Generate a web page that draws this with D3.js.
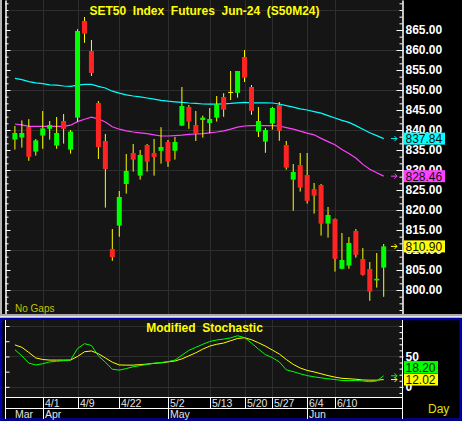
<!DOCTYPE html>
<html>
<head>
<meta charset="utf-8">
<script src="https://cdn.jsdelivr.net/npm/d3@7"></script>
<style>
body { margin: 0; background: #000; }
svg { display: block; font-family: "Liberation Sans", Arial, sans-serif; }
</style>
</head>
<body>
<div id="chart"></div>
<script>
// trading days, SET50 Jun-24 futures
const dates = ["3/26", "3/27", "3/28", "3/29",
    "4/1", "4/2", "4/3", "4/4", "4/5", "4/9", "4/10", "4/11", "4/17", "4/18", "4/19",
    "4/22", "4/23", "4/24", "4/25", "4/26", "4/29", "4/30",
    "5/2", "5/3", "5/7", "5/8", "5/9", "5/10", "5/13", "5/14", "5/15", "5/16", "5/17",
    "5/20", "5/21", "5/23", "5/24", "5/27", "5/28", "5/29", "5/30", "5/31",
    "6/4", "6/5", "6/6", "6/7", "6/10", "6/11", "6/12", "6/13", "6/14", "6/17", "6/18", "6/19"];

const open = [837.6, 838.1, 840.75, 834.6, 838.6, 840.3, 836.1, 842.25, 835.1, 843.1,
    867.25, 859.75, 846.75, 837.25, 810.25, 816.1, 826.5, 834.25, 828.6, 836.25,
    834.25, 834.8, 837.0, 834.8, 841.1, 845.75, 841.25, 842.5, 841.75, 843.1,
    848.25, 849.4, 849.3, 858.25, 850.75, 839.6, 837.1, 841.6, 846.25, 836.25,
    827.6, 831.25, 828.75, 825.25, 826.25, 816.6, 817.75, 805.3, 806.1, 814.75,
    807.75, 805.25, 802.4, 805.6];
const high = [841.0, 842.4, 842.7, 837.75, 844.75, 842.25, 843.25, 844.0, 840.0, 865.2,
    868.25, 862.5, 847.25, 839.0, 815.25, 824.75, 834.0, 836.5, 835.0, 836.5,
    837.75, 840.7, 837.5, 838.25, 850.75, 846.25, 844.75, 843.6, 845.5, 848.5,
    849.2, 854.75, 854.75, 860.0, 851.25, 845.75, 840.5, 845.75, 847.0, 837.25,
    831.5, 834.25, 834.25, 826.75, 826.5, 820.75, 817.9, 814.25, 813.25, 815.25,
    810.5, 807.0, 809.25, 811.5];
const low = [835.1, 835.6, 832.3, 833.6, 835.3, 837.6, 835.3, 836.6, 834.1, 842.1,
    861.8, 853.5, 832.75, 820.6, 807.3, 813.3, 824.1, 829.6, 827.6, 829.6,
    828.6, 831.6, 830.8, 832.6, 841.0, 840.3, 837.25, 838.1, 839.2, 842.1,
    843.3, 847.5, 848.1, 852.0, 843.8, 838.25, 834.3, 840.1, 837.3, 830.1,
    819.8, 824.6, 821.6, 819.1, 813.6, 813.1, 804.6, 805.2, 805.3, 808.1,
    803.6, 797.3, 800.6, 798.3];
const close = [839.25, 839.25, 833.3, 837.4, 840.4, 841.25, 839.25, 840.3, 839.6, 864.75,
    864.1, 854.25, 835.75, 830.25, 808.2, 823.25, 829.75, 832.6, 833.75, 832.1,
    833.25, 835.75, 832.1, 837.0, 846.0, 842.1, 839.0, 843.1, 842.75, 846.4,
    845.1, 849.4, 854.75, 853.1, 844.8, 842.25, 840.0, 845.5, 839.8, 830.6,
    829.5, 825.6, 822.3, 823.6, 816.6, 818.75, 807.8, 807.5, 811.75, 808.8,
    803.8, 799.6, 802.8, 810.9];

// moving averages
const maLong = [852.9, 852.6, 852.1, 851.8, 851.6, 851.3, 851.2, 851.0, 850.9, 851.2,
    851.4, 851.4, 850.9, 850.5, 849.7, 849.2, 848.8, 848.5, 848.3, 848.0,
    847.7, 847.4, 847.2, 847.05, 846.9, 846.75, 846.65, 846.5, 846.45, 846.45,
    846.55, 846.65, 846.8, 846.9, 846.8, 846.8, 846.8, 846.75, 846.5, 846.1,
    845.7, 845.3, 845.0, 844.6, 844.2, 843.6, 843.0, 842.4, 841.9, 841.1,
    840.2, 839.3, 838.6, 837.84];
const maShort = [841.5, 841.3, 840.9, 840.9, 840.9, 840.9, 840.9, 840.9, 841.2, 842.1,
    842.7, 843.2, 842.8, 842.0, 840.8, 840.2, 839.8, 839.5, 839.3, 839.1,
    838.8, 838.5, 838.5, 838.6, 838.7, 838.9, 839.0, 839.1, 839.3, 839.5,
    839.8, 840.2, 840.7, 841.0, 841.1, 841.1, 841.1, 841.1, 841.0, 840.6,
    840.2, 839.7, 839.2, 838.8, 837.9, 837.1, 836.3, 835.1, 834.1, 833.0,
    831.4, 830.2, 829.3, 828.46];

// modified stochastic %K (green) and %D (yellow)
const stochK = [61, 51, 39, 36, 38, 41, 42, 43, 44, 63,
    71, 68, 51, 40.5, 29, 27.5, 30, 33, 35, 37,
    39, 40, 41.5, 44, 52, 60, 65, 70, 74.5, 77,
    78.5, 80.5, 84, 81, 72, 62, 53, 48, 41, 28,
    25, 21.5, 18.5, 16.5, 14.8, 13.3, 12, 10.5, 10.2, 10.6,
    9.6, 8.4, 9.6, 18.2];
const stochD = [69, 65, 56.5, 47.5, 45, 44, 44, 44, 44, 50,
    57.7, 59, 54.5, 47.5, 40.5, 36, 35.7, 35.7, 36.5, 37.4,
    38.5, 39.5, 41, 42.5, 46, 51, 56, 62, 67, 70,
    72, 75.8, 79.5, 80.7, 77.5, 72.5, 67, 60.5, 54, 45,
    37, 31, 27, 24.5, 21.5, 18.5, 16, 14, 13.3, 12.5,
    11.3, 11, 11, 12.02];

const priceTicks = [800, 805, 810, 815, 820, 825, 830, 835, 840, 845, 850, 855, 860, 865];
const priceGrid = [800, 810, 820, 830, 840, 850, 860, 870];
const dateLabels = ["4/1", "4/9", "4/22", "5/2", "5/13", "5/20", "5/27", "6/4", "6/10"];
const monthDates = ["3/26", "4/1", "5/2", "6/4"];
const monthNames = ["Mar", "Apr", "May", "Jun"];

let w = 462;
let h = 421;
let plotL = 6, plotR = 403;
let mainTop = 0, mainBot = 314;
let stTop = 320, stBot = 397.5;

let xScale = d3.scalePoint().domain(dates).range([14.9, 383.7]);
let yScale = d3.scaleLinear().domain([794, 872.5]).range([mainBot, mainTop]);
let sScale = d3.scaleLinear().domain([-17.5, 109.9]).range([stBot, stTop]);

const svg = d3.select("#chart")
    .append("svg")
    .attr("width", w)
    .attr("height", h);

svg.append("rect").attr("width", w).attr("height", h).attr("fill", "#000");

// ---------- main panel ----------
svg.append("rect").attr("x", 0).attr("y", 0).attr("width", 2).attr("height", mainBot).attr("fill", "#b4b4b4");
svg.append("rect")
    .attr("x", plotL).attr("y", mainTop)
    .attr("width", plotR - plotL).attr("height", mainBot - mainTop)
    .attr("fill", "#151515");

svg.append("g").selectAll("line")
    .data(priceGrid)
    .enter()
    .append("line")
    .attr("x1", plotL).attr("x2", plotR)
    .attr("y1", d => Math.round(yScale(d)) + 0.5).attr("y2", d => Math.round(yScale(d)) + 0.5)
    .attr("stroke", "#2e2e2e");

svg.append("g").selectAll("line")
    .data(dateLabels)
    .enter()
    .append("line")
    .attr("x1", d => Math.round(xScale(d)) + 0.5).attr("x2", d => Math.round(xScale(d)) + 0.5)
    .attr("y1", mainTop).attr("y2", mainBot)
    .attr("stroke", "#2e2e2e");

// minor ticks every third of 5 points
const minorTicks = d3.range(0, 48).map(k => 795 + k * 5 / 3).filter(v => v < 872.5);

const whiteAxis = g => {
    g.selectAll("path, line").attr("stroke", "#fff");
};

svg.append("g")
    .attr("transform", `translate(${plotL - 0.5},0)`)
    .call(d3.axisRight(yScale).tickValues(minorTicks).tickSize(3).tickFormat("").tickSizeOuter(0))
    .call(whiteAxis);
svg.append("g")
    .attr("transform", `translate(${plotL - 0.5},0)`)
    .call(d3.axisRight(yScale).tickValues(priceTicks).tickSize(5).tickFormat("").tickSizeOuter(0))
    .call(whiteAxis);

svg.append("g")
    .attr("transform", `translate(${plotR - 0.5},0)`)
    .call(d3.axisLeft(yScale).tickValues(minorTicks).tickSize(3).tickFormat("").tickSizeOuter(0))
    .call(whiteAxis);
svg.append("g")
    .attr("transform", `translate(${plotR - 0.5},0)`)
    .call(d3.axisLeft(yScale).tickValues(priceTicks).tickSize(6).tickFormat("").tickSizeOuter(0))
    .call(whiteAxis);
svg.append("g")
    .attr("transform", `translate(${plotR - 0.5},0)`)
    .call(d3.axisRight(yScale).tickValues(priceTicks).tickSize(1).tickPadding(2).tickFormat(d3.format(".2f")).tickSizeOuter(0))
    .call(whiteAxis)
    .call(g => g.select(".domain").remove())
    .call(g => g.selectAll("text")
        .attr("fill", "#fff")
        .attr("font-size", 12)
        .attr("font-weight", "bold")
        .attr("font-family", "'Liberation Sans', Arial, sans-serif"));

// moving averages
const maLine = arr => d3.line()
    .x((d, i) => xScale(dates[i]))
    .y(d => yScale(d))(arr);

svg.append("path").attr("d", maLine(maLong)).attr("fill", "none").attr("stroke", "#00ffff").attr("stroke-width", 1.2);
svg.append("path").attr("d", maLine(maShort)).attr("fill", "none").attr("stroke", "#ff40ff").attr("stroke-width", 1.2);

// candles
let candles = dates.map((d, i) => ({ d: d, o: open[i], h: high[i], l: low[i], c: close[i] }));
let barWidth = 5;

let candle = svg.append("g").selectAll("g")
    .data(candles)
    .enter()
    .append("g");

candle.append("line")
    .attr("x1", d => xScale(d.d)).attr("x2", d => xScale(d.d))
    .attr("y1", d => yScale(d.h)).attr("y2", d => yScale(d.l))
    .attr("stroke", "#ffff00");

candle.append("rect")
    .attr("x", d => xScale(d.d) - barWidth / 2)
    .attr("width", barWidth)
    .attr("y", d => yScale(Math.max(d.o, d.c)) - (d.o === d.c ? 0.5 : 0))
    .attr("height", d => Math.max(1, Math.abs(yScale(d.o) - yScale(d.c))))
    .attr("fill", d => d.c > d.o ? "#00ff00" : (d.c < d.o ? "#ff2424" : "#ffff00"));

// title and note
svg.append("text")
    .attr("x", 204.5).attr("y", 15)
    .attr("text-anchor", "middle")
    .attr("font-size", 12).attr("font-weight", "bold")
    .attr("fill", "#ffff00")
    .style("white-space", "pre")
    .text("SET50  Index  Futures  Jun-24  (S50M24)");

svg.append("text")
    .attr("x", 15).attr("y", 312)
    .attr("font-size", 10)
    .attr("fill", "#c4c400")
    .text("No Gaps");

// last value boxes
const arrow = (g, yy, color) => {
    g.append("path")
        .attr("d", `M391,${yy}H397M394.5,${yy - 2.5}L397,${yy}L394.5,${yy + 2.5}`)
        .attr("fill", "none").attr("stroke", color);
};
const valueBox = (yy, label, color, bw) => {
    svg.append("rect")
        .attr("x", 404).attr("y", yy - 6)
        .attr("width", bw).attr("height", 12)
        .attr("fill", color);
    svg.append("text")
        .attr("x", 405.5).attr("y", yy + 4.5)
        .attr("font-size", 12)
        .attr("fill", "#101010")
        .text(label);
};

let last = dates.length - 1;
arrow(svg, yScale(maLong[last]), "#00ffff");
arrow(svg, yScale(maShort[last]), "#ff40ff");
arrow(svg, yScale(close[last]), "#ffff00");
valueBox(yScale(maLong[last]), d3.format(".2f")(maLong[last]), "#00ffff", 41);
valueBox(yScale(maShort[last]), d3.format(".2f")(maShort[last]), "#ff40ff", 41);
valueBox(yScale(close[last]), d3.format(".2f")(close[last]), "#ffff00", 41);

// separator
svg.append("rect").attr("x", 0).attr("y", 314).attr("width", w).attr("height", 2).attr("fill", "#a8a8a8");
svg.append("rect").attr("x", 0).attr("y", 316).attr("width", w).attr("height", 2).attr("fill", "#e6e6e6");

// ---------- stochastic panel ----------
svg.append("rect")
    .attr("x", 1).attr("y", 319)
    .attr("width", 459.5).attr("height", 100.5)
    .attr("fill", "#000")
    .attr("stroke", "#0000a8")
    .attr("stroke-width", 2.5);

svg.append("rect")
    .attr("x", plotL).attr("y", stTop)
    .attr("width", plotR - plotL).attr("height", stBot - stTop)
    .attr("fill", "#151515");

svg.append("g").selectAll("line")
    .data([0, 50, 100])
    .enter()
    .append("line")
    .attr("x1", plotL).attr("x2", plotR)
    .attr("y1", d => Math.round(sScale(d)) + 0.5).attr("y2", d => Math.round(sScale(d)) + 0.5)
    .attr("stroke", "#2e2e2e");

svg.append("g").selectAll("line")
    .data(dateLabels)
    .enter()
    .append("line")
    .attr("x1", d => Math.round(xScale(d)) + 0.5).attr("x2", d => Math.round(xScale(d)) + 0.5)
    .attr("y1", stTop).attr("y2", stBot)
    .attr("stroke", "#2e2e2e");

const stLine = arr => d3.line()
    .x((d, i) => xScale(dates[i]))
    .y(d => sScale(d))(arr);

svg.append("path").attr("d", stLine(stochD)).attr("fill", "none").attr("stroke", "#ffff00").attr("stroke-width", 1);
svg.append("path").attr("d", stLine(stochK)).attr("fill", "none").attr("stroke", "#00ff00").attr("stroke-width", 1);

svg.append("text")
    .attr("x", 204.5).attr("y", 332)
    .attr("text-anchor", "middle")
    .attr("font-size", 12).attr("font-weight", "bold")
    .attr("fill", "#ffff00")
    .style("white-space", "pre")
    .text("Modified  Stochastic");

// axis lines of the lower panel run down through the date rows
svg.append("line").attr("x1", plotL - 0.5).attr("x2", plotL - 0.5).attr("y1", stTop).attr("y2", 419).attr("stroke", "#fff");
svg.append("line").attr("x1", plotR - 0.5).attr("x2", plotR - 0.5).attr("y1", stTop).attr("y2", 419).attr("stroke", "#fff");

let stScaleClip = sScale.copy().range([stBot, stTop]);
svg.append("g")
    .attr("transform", `translate(${plotL - 0.5},0)`)
    .call(d3.axisRight(stScaleClip).tickValues([0, 25, 50, 75, 100]).tickSize(4).tickFormat("").tickSizeOuter(0))
    .call(whiteAxis)
    .call(g => g.select(".domain").remove());
svg.append("g")
    .attr("transform", `translate(${plotR - 0.5},0)`)
    .call(d3.axisLeft(stScaleClip).tickValues(d3.range(-10, 110, 10)).tickSize(3).tickFormat("").tickSizeOuter(0))
    .call(whiteAxis)
    .call(g => g.select(".domain").remove());
svg.append("g")
    .attr("transform", `translate(${plotR - 0.5},0)`)
    .call(d3.axisRight(stScaleClip).tickValues([0, 50]).tickSize(1).tickPadding(2).tickSizeOuter(0))
    .call(whiteAxis)
    .call(g => g.select(".domain").remove())
    .call(g => g.selectAll("text")
        .attr("fill", "#fff")
        .attr("font-size", 12)
        .attr("font-weight", "bold")
        .attr("font-family", "'Liberation Sans', Arial, sans-serif"));

let kEnd = sScale(stochK[last]);
let dEnd = sScale(stochD[last]);
arrow(svg, kEnd, "#00ff00");
arrow(svg, dEnd, "#ffff00");
let kBox = Math.min(kEnd, dEnd - 12.5);
valueBox(kBox, d3.format(".2f")(stochK[last]), "#00ff00", 34);
valueBox(dEnd, d3.format(".2f")(stochD[last]), "#ffff00", 34);

// date rows
svg.append("line").attr("x1", plotL - 0.5).attr("x2", plotR).attr("y1", stBot).attr("y2", stBot).attr("stroke", "#fff");
svg.append("line").attr("x1", plotL - 0.5).attr("x2", plotR).attr("y1", 408.5).attr("y2", 408.5).attr("stroke", "#fff");

svg.append("g").selectAll("line")
    .data(dateLabels)
    .enter()
    .append("line")
    .attr("x1", d => Math.round(xScale(d)) + 0.5).attr("x2", d => Math.round(xScale(d)) + 0.5)
    .attr("y1", stBot).attr("y2", 408.5)
    .attr("stroke", "#fff");

svg.append("g").selectAll("text")
    .data(dateLabels)
    .enter()
    .append("text")
    .attr("x", d => Math.round(xScale(d)) + 2)
    .attr("y", 407)
    .attr("font-size", 10.5)
    .attr("fill", "#e4e4e4")
    .text(d => d);

svg.append("g").selectAll("line")
    .data(monthDates.slice(1))
    .enter()
    .append("line")
    .attr("x1", d => Math.round(xScale(d)) + 0.5).attr("x2", d => Math.round(xScale(d)) + 0.5)
    .attr("y1", 408.5).attr("y2", 419)
    .attr("stroke", "#fff");

svg.append("g").selectAll("text")
    .data(monthDates)
    .enter()
    .append("text")
    .attr("x", (d, i) => i === 0 ? Math.round(xScale(d)) : Math.round(xScale(d)) + 2)
    .attr("y", 418)
    .attr("font-size", 10.5)
    .attr("fill", "#e4e4e4")
    .text((d, i) => monthNames[i]);

svg.append("text")
    .attr("x", 428).attr("y", 413)
    .attr("font-size", 12)
    .attr("fill", "#e0e000")
    .text("Day");
</script>
</body>
</html>
